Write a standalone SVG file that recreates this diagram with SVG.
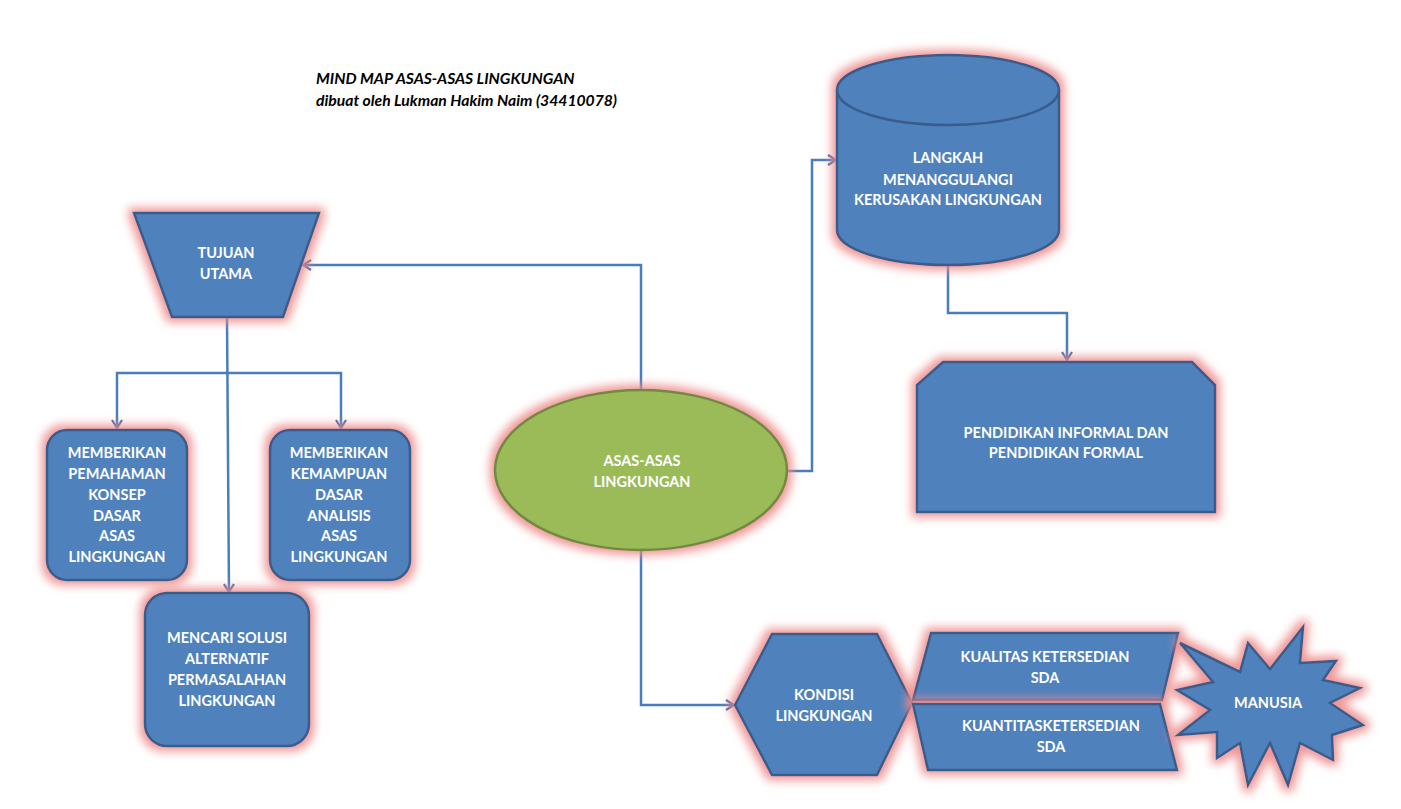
<svg xmlns="http://www.w3.org/2000/svg" width="1401" height="809" viewBox="0 0 1401 809">
<style>
.s{fill:#4F81BD;stroke:#385D8A;stroke-width:2.5;filter:url(#glow)}
.g{fill:#9BBB59;stroke:#71893F;stroke-width:2.5;filter:url(#glow)}
.t{font-family:Lato,"Liberation Sans",sans-serif;font-weight:bold;font-size:14.5px;fill:#FFFFFF;text-anchor:middle}
.ttl{font-family:Lato,"Liberation Sans",sans-serif;font-weight:bold;font-style:italic;font-size:15.7px;fill:#000000}
.c{fill:none;stroke:#4A7EBB;stroke-width:2.5;marker-end:url(#arr)}
</style>
<defs>
<filter id="glow" x="-25%" y="-25%" width="150%" height="150%">
<feMorphology in="SourceAlpha" operator="dilate" radius="4" result="d"/>
<feGaussianBlur in="d" stdDeviation="5" result="b"/>
<feFlood flood-color="#EE8A8A" flood-opacity="0.9"/>
<feComposite in2="b" operator="in" result="gl"/>
<feMerge><feMergeNode in="gl"/><feMergeNode in="SourceGraphic"/></feMerge>
</filter>
<marker id="arr" markerWidth="12" markerHeight="12" refX="10" refY="6" orient="auto" markerUnits="userSpaceOnUse">
<path d="M2,1 L10,6 L2,11" fill="none" stroke="#4A6BA8" stroke-width="2.2"/>
</marker>
</defs>
<rect width="1401" height="809" fill="#FFFFFF"/>
<g id="title">
<text class="ttl" x="316" y="84">MIND MAP ASAS-ASAS LINGKUNGAN</text>
<text class="ttl" x="316" y="106">dibuat oleh Lukman Hakim Naim (34410078)</text>
</g>
<g id="connectors">
<polyline class="c" points="641,390 641,265 303,265"/>
<polyline class="c" points="787,471 812,471 812,160 836,160"/>
<polyline class="c" points="948,265 948,313 1067,313 1067,360"/>
<polyline class="c" points="641,551 641,705 734,705"/>
<path class="c" d="M227,318 L229,592"/>
<polyline class="c" points="228,373 117,373 117,428"/>
<polyline class="c" points="228,373 341,373 341,428"/>
</g>
<g id="tujuan">
<polygon class="s" points="134,213 319,213 283,317 172,317"/>
<text class="t" x="226" y="258">TUJUAN</text>
<text class="t" x="226" y="279">UTAMA</text>
</g>
<g id="memberikan-pemahaman">
<rect class="s" x="47" y="430" width="140" height="150" rx="20"/>
<text class="t" x="117" y="458">MEMBERIKAN</text>
<text class="t" x="117" y="479">PEMAHAMAN</text>
<text class="t" x="117" y="500">KONSEP</text>
<text class="t" x="117" y="521">DASAR</text>
<text class="t" x="117" y="541">ASAS</text>
<text class="t" x="117" y="562">LINGKUNGAN</text>
</g>
<g id="memberikan-kemampuan">
<rect class="s" x="270" y="430" width="140" height="150" rx="20"/>
<text class="t" x="339" y="458">MEMBERIKAN</text>
<text class="t" x="339" y="479">KEMAMPUAN</text>
<text class="t" x="339" y="500">DASAR</text>
<text class="t" x="339" y="521">ANALISIS</text>
<text class="t" x="339" y="541">ASAS</text>
<text class="t" x="339" y="562">LINGKUNGAN</text>
</g>
<g id="mencari-solusi">
<rect class="s" x="145" y="593" width="164" height="153" rx="22"/>
<text class="t" x="227" y="643">MENCARI SOLUSI</text>
<text class="t" x="227" y="664">ALTERNATIF</text>
<text class="t" x="227" y="685">PERMASALAHAN</text>
<text class="t" x="227" y="706">LINGKUNGAN</text>
</g>
<g id="asas">
<ellipse class="g" cx="641" cy="470" rx="146" ry="80"/>
<text class="t" x="642" y="466">ASAS-ASAS</text>
<text class="t" x="642" y="487">LINGKUNGAN</text>
</g>
<g id="langkah">
<path class="s" d="M837,90 A111,35 0 0 1 1059,90 L1059,230 A111,35 0 0 1 837,230 Z"/>
<path d="M837,90 A111,35 0 0 0 1059,90" fill="none" stroke="#385D8A" stroke-width="2.5"/>
<text class="t" x="948" y="163">LANGKAH</text>
<text class="t" x="948" y="185">MENANGGULANGI</text>
<text class="t" x="948" y="205">KERUSAKAN LINGKUNGAN</text>
</g>
<g id="pendidikan">
<polygon class="s" points="943,362 1192,362 1215,385 1215,512 917,512 917,385"/>
<text class="t" x="1066" y="438">PENDIDIKAN INFORMAL DAN</text>
<text class="t" x="1066" y="458">PENDIDIKAN FORMAL</text>
</g>
<g id="kondisi">
<polygon class="s" points="735,705 772,634 877,634 912,703 877,775 772,775"/>
<text class="t" x="824" y="700">KONDISI</text>
<text class="t" x="824" y="721">LINGKUNGAN</text>
</g>
<g id="kualitas">
<polygon class="s" points="931,633 1178,633 1162,700 913,700"/>
<text class="t" x="1045" y="662">KUALITAS KETERSEDIAN</text>
<text class="t" x="1045" y="683">SDA</text>
</g>
<g id="kuantitas">
<polygon class="s" points="913,704 1160,704 1177,770 928,770"/>
<text class="t" x="1051" y="731">KUANTITASKETERSEDIAN</text>
<text class="t" x="1051" y="752">SDA</text>
</g>
<g id="manusia">
<polygon class="s" points="1180,643 1240,672 1248,643 1270,669 1303,627 1300,663 1336,661 1323,680 1360,688 1330,703 1363,725 1332,735 1333,760 1300,743 1288,785 1270,743 1248,785 1240,743 1217,758 1217,732 1178,735 1210,710 1177,690 1213,682"/>
<text class="t" x="1268" y="708">MANUSIA</text>
</g>
</svg>
